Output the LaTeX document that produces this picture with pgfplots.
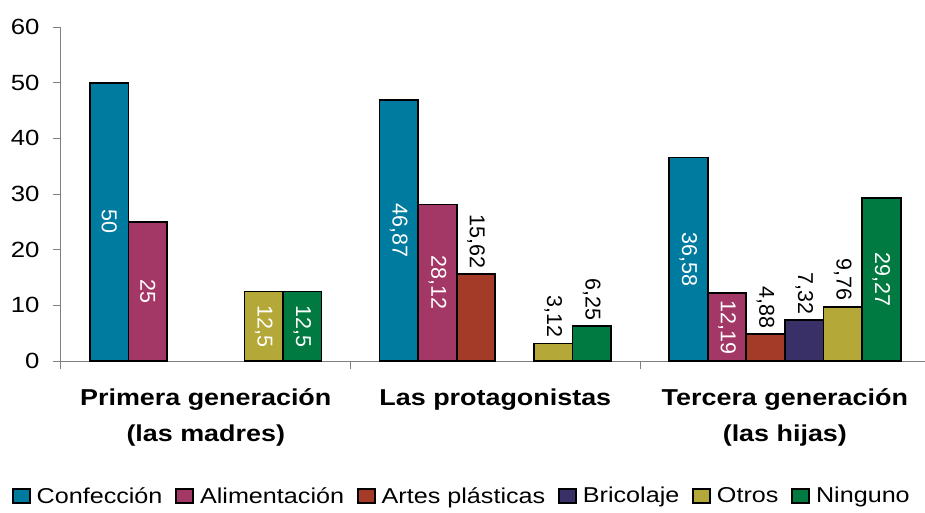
\documentclass[border=0pt]{standalone}
\usepackage{fontspec}
\setmainfont{Liberation Sans}[FakeStretch=1.17]
\newfontfamily\barfont{Liberation Sans}
\usepackage{pgfplots}
\usepackage{pgfplotstable}
\pgfplotsset{compat=1.18}

\definecolor{cConf}{RGB}{0,123,160}
\definecolor{cAlim}{RGB}{163,56,102}
\definecolor{cArte}{RGB}{163,59,40}
\definecolor{cBric}{RGB}{58,48,104}
\definecolor{cOtro}{RGB}{180,168,56}
\definecolor{cNing}{RGB}{0,122,64}

% labels inside the bar (white) and above it (black)
\pgfplotstableread{
x y lab
0 50 50
1 46.87 46,87
2 36.58 36,58
}\conf
\pgfplotstableread{
x y lab
0 25 25
1 28.12 28,12
2 12.19 12,19
}\alim
\pgfplotstableread{
x y lab
1 15.62 15,62
2 4.88 4,88
}\arte
\pgfplotstableread{
x y lab
2 7.32 7,32
}\bric
\pgfplotstableread{
x y lab
0 12.5 12,5
}\otroin
\pgfplotstableread{
x y lab
1 3.12 3,12
2 9.76 9,76
}\otroup
\pgfplotstableread{
x y lab
0 12.5 12,5
2 29.27 29,27
}\ningin
\pgfplotstableread{
x y lab
1 6.25 6,25
}\ningup

\pgfplotsset{
  barbase/.style={draw=black, line width=1.7pt, point meta=explicit symbolic,
    legend image code/.code={\draw[##1, draw=black, line width=1.5pt] (0pt,-7pt) rectangle (17pt,7pt);
      \path (21pt,0pt);}},
  inlab/.style={nodes near coords, visualization depends on={rawy \as \rawy},
    every node near coord/.append style={font=\barfont\fontsize{21.5}{24}\selectfont,
      text=white, anchor=center, yshift=-2.7833pt*\rawy, rotate=-90}},
  uplab/.style={nodes near coords,
    every node near coord/.append style={font=\barfont\fontsize{21.5}{24}\selectfont,
      text=black, anchor=east, inner sep=5pt, rotate=-90}},
}

\begin{document}
\begin{tikzpicture}
\path[use as bounding box] (-61pt,-152pt) rectangle (864pt,361pt);
\begin{axis}[
    scale only axis, width=864pt, height=334pt,
    xmin=-0.5, xmax=2.484, ymin=0, ymax=60,
    axis lines=left, axis line style={-, gray, line width=1pt},
    ytick={0,10,...,60},
    xtick={-0.5,0.5,1.5}, xticklabels={,,},
    extra x ticks={0,1,2},
    extra x tick labels={{Primera generación\\(las madres)},{Las protagonistas},{Tercera generación\\(las hijas)}},
    extra x tick style={major tick length=0pt, xticklabel style={yshift=-24pt}},
    xticklabel style={align=center, font=\bfseries\fontsize{23}{36}\selectfont},
    yticklabel style={font=\fontsize{22}{24}\selectfont, xshift=-10pt},
    /pgf/number format/assume math mode=true,
    tick align=outside, tick pos=left, major tick length=8pt,
    tick style={gray, line width=1pt},
    ybar=0pt, bar width=0.1333,
    legend columns=6,
    legend style={draw=none, at={(0.464,-0.404)}, anchor=center,
      font=\fontsize{21.5}{24}\selectfont,
      /tikz/every even column/.append style={column sep=11pt}},
    clip=false,
]
\addplot[barbase, fill=cConf, bar shift=-0.3333, inlab] table[x=x,y=y,meta=lab]{\conf};
\addlegendentry{Confección}
\addplot[barbase, fill=cAlim, bar shift=-0.2, inlab] table[x=x,y=y,meta=lab]{\alim};
\addlegendentry{Alimentación}
\addplot[barbase, fill=cArte, bar shift=-0.0667, uplab] table[x=x,y=y,meta=lab]{\arte};
\addlegendentry{Artes plásticas}
\addplot[barbase, fill=cBric, bar shift=0.0667, uplab] table[x=x,y=y,meta=lab]{\bric};
\addlegendentry{Bricolaje}
\addplot[barbase, fill=cOtro, bar shift=0.2, inlab] table[x=x,y=y,meta=lab]{\otroin};
\addlegendentry{Otros}
\addplot[barbase, fill=cNing, bar shift=0.3333, inlab] table[x=x,y=y,meta=lab]{\ningin};
\addlegendentry{Ninguno}
\addplot[barbase, fill=cOtro, bar shift=0.2, uplab, forget plot] table[x=x,y=y,meta=lab]{\otroup};
\addplot[barbase, fill=cNing, bar shift=0.3333, uplab, forget plot] table[x=x,y=y,meta=lab]{\ningup};
\end{axis}
\end{tikzpicture}
\end{document}
